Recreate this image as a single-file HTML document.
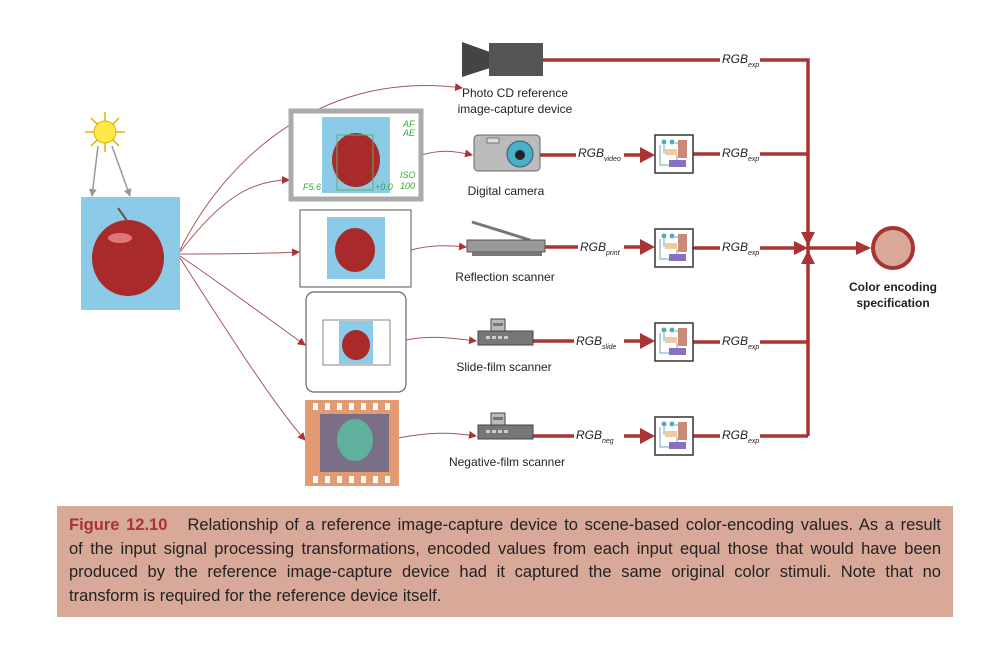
<!DOCTYPE html>
<html><head><style>
body{margin:0;background:#fff;width:1000px;height:672px;overflow:hidden;font-family:"Liberation Sans",sans-serif}
svg text{font-family:"Liberation Sans",sans-serif}
.cap{position:absolute;left:57px;top:506px;width:872px;height:90px;padding:8px 12px 13px 12px;background:#d8a898;font-size:16.5px;line-height:23.5px;color:#222}
.cap div{text-align:justify;text-align-last:justify;white-space:nowrap}
.cap div.l{text-align-last:left}
</style></head><body>
<svg width="1000" height="672" style="position:absolute;left:0;top:0">
<defs>
<marker id="a" markerWidth="8" markerHeight="8" refX="7" refY="4" orient="auto" markerUnits="userSpaceOnUse"><path d="M0,0 L8,4 L0,8 z" fill="#a33"/></marker>
<marker id="g" markerWidth="8" markerHeight="8" refX="7" refY="4" orient="auto" markerUnits="userSpaceOnUse"><path d="M0,0 L8,4 L0,8 z" fill="#999"/></marker>
<g id="proc">
<rect x="0" y="0" width="38" height="38" fill="#fff" stroke="#333" stroke-width="1.5"/>
<rect x="23" y="5" width="9" height="18" fill="#c98a7a"/>
<rect x="10" y="14" width="12" height="6" fill="#f0c9a0"/>
<rect x="14" y="25" width="17" height="7" fill="#8a70c0"/>
<circle cx="9" cy="7" r="2.5" fill="#5ab"/><circle cx="17" cy="7" r="2.5" fill="#5ab"/>
<path d="M5,10 V30 H14 M9,10 V18 M20,8 H23 M22,20 V25" stroke="#6ab" fill="none"/>
</g>
<g id="scan">
<rect x="13" y="0" width="14" height="12" fill="#bbb" stroke="#444"/>
<rect x="15" y="4" width="10" height="3" fill="#777"/>
<rect x="0" y="12" width="55" height="14" fill="#777" stroke="#444"/>
<rect x="8" y="17" width="4" height="3" fill="#ccc"/><rect x="14" y="17" width="4" height="3" fill="#ccc"/><rect x="20" y="17" width="4" height="3" fill="#ccc"/><rect x="26" y="17" width="4" height="3" fill="#ccc"/>
</g>
</defs>
<!-- sun -->
<g stroke="#e0b000" stroke-width="1.5">
<line x1="85" y1="132" x2="125" y2="132"/><line x1="105" y1="112" x2="105" y2="152"/>
<line x1="91" y1="118" x2="119" y2="146"/><line x1="119" y1="118" x2="91" y2="146"/>
</g>
<circle cx="105" cy="132" r="11" fill="#ffe84a" stroke="#e0b000"/>
<path d="M98,146 L92,196" stroke="#999" stroke-width="1.5" marker-end="url(#g)" fill="none"/>
<path d="M112,146 L130,196" stroke="#999" stroke-width="1.5" marker-end="url(#g)" fill="none"/>
<!-- apple image -->
<rect x="81" y="197" width="99" height="113" fill="#8ccbe8"/>
<ellipse cx="128" cy="258" rx="36" ry="38" fill="#a82a2a"/>
<ellipse cx="120" cy="238" rx="12" ry="5" fill="#d77"/>
<line x1="128" y1="222" x2="118" y2="208" stroke="#654" stroke-width="2"/>
<!-- fan connectors -->
<g stroke="#a55" stroke-width="1" fill="none" marker-end="url(#a)">
<path d="M180,250 C230,150 330,70 462,88"/>
<path d="M180,252 C220,200 250,180 289,180"/>
<path d="M180,254 C220,254 260,254 299,252"/>
<path d="M180,256 C230,290 270,320 305,345"/>
<path d="M180,258 C220,320 270,400 305,440"/>
<path d="M421,155 C440,150 450,150 472,155"/>
<path d="M411,250 C430,245 445,245 466,247"/>
<path d="M406,340 C430,335 450,338 476,341"/>
<path d="M398,438 C430,432 450,432 476,436"/>
</g>
<!-- LCD -->
<rect x="291" y="111" width="130" height="88" fill="#fff" stroke="#aaa" stroke-width="5"/>
<rect x="322" y="117" width="68" height="76" fill="#8ccbe8"/>
<ellipse cx="356" cy="160" rx="24" ry="27" fill="#a82a2a"/>
<rect x="337" y="135" width="36" height="55" fill="none" stroke="#6a6" stroke-width="1"/>
<g fill="#3a3" font-size="9" font-style="italic"><text x="403" y="127">AF</text><text x="403" y="136">AE</text><text x="303" y="190">F5.6</text><text x="375" y="190">+0.0</text><text x="400" y="178">ISO</text><text x="400" y="189">100</text></g>
<!-- print -->
<rect x="300" y="210" width="111" height="77" fill="#fff" stroke="#555" stroke-width="1"/>
<rect x="327" y="217" width="58" height="62" fill="#8ccbe8"/>
<ellipse cx="355" cy="250" rx="20" ry="22" fill="#a82a2a"/>
<!-- slide -->
<rect x="306" y="292" width="100" height="100" rx="8" fill="#fff" stroke="#666" stroke-width="1.2"/>
<rect x="323" y="320" width="67" height="45" fill="#fff" stroke="#666" stroke-width="0.8"/>
<rect x="339" y="321" width="34" height="43" fill="#8ccbe8"/>
<ellipse cx="356" cy="345" rx="14" ry="15" fill="#a82a2a"/>
<!-- film -->
<rect x="305" y="400" width="94" height="86" fill="#e49a70"/>
<rect x="320" y="414" width="69" height="58" fill="#7a6f86"/>
<ellipse cx="355" cy="440" rx="18" ry="21" fill="#5fb09c"/>
<g fill="#fff"><rect x="313" y="403" width="5" height="7"/><rect x="325" y="403" width="5" height="7"/><rect x="337" y="403" width="5" height="7"/><rect x="349" y="403" width="5" height="7"/><rect x="361" y="403" width="5" height="7"/><rect x="373" y="403" width="5" height="7"/><rect x="385" y="403" width="5" height="7"/>
<rect x="313" y="476" width="5" height="7"/><rect x="325" y="476" width="5" height="7"/><rect x="337" y="476" width="5" height="7"/><rect x="349" y="476" width="5" height="7"/><rect x="361" y="476" width="5" height="7"/><rect x="373" y="476" width="5" height="7"/><rect x="385" y="476" width="5" height="7"/></g>
<!-- red lines -->
<g stroke="#a33" stroke-width="3.5" fill="none">
<path d="M543,60 H720 M760,60 H808 V436"/>
<path d="M540,155 H576 M624,155 H648 M693,154 H720 M760,154 H808"/>
<path d="M545,247 H578 M624,247 H648 M693,248 H720 M760,248 H800"/>
<path d="M533,341 H574 M624,341 H648 M693,342 H720 M760,342 H808"/>
<path d="M533,436 H574 M624,436 H648 M693,436 H720 M760,436 H808"/>
<path d="M808,248 H868"/>
</g>
<g fill="#a33">
<path d="M640,147 L655,155 L640,163 z"/><path d="M640,239 L655,247 L640,255 z"/><path d="M640,333 L655,341 L640,349 z"/><path d="M640,428 L655,436 L640,444 z"/>
<path d="M794,241 L808,248 L794,255 z"/><path d="M801,232 L808,246 L815,232 z"/><path d="M801,264 L808,250 L815,264 z"/><path d="M856,241 L871,248 L856,255 z"/>
</g>
<circle cx="893" cy="248" r="20" fill="#d8a898" stroke="#a33" stroke-width="4"/>
<use href="#proc" x="655" y="135"/><use href="#proc" x="655" y="229"/><use href="#proc" x="655" y="323"/><use href="#proc" x="655" y="417"/>
<!-- video camera -->
<path d="M462,42 L490,52 L490,68 L462,77 z" fill="#444"/>
<rect x="489" y="43" width="54" height="33" fill="#555"/>
<!-- digital camera -->
<rect x="474" y="135" width="66" height="36" rx="4" fill="#bbb" stroke="#666"/>
<rect x="487" y="138" width="12" height="5" fill="#ddd" stroke="#777"/>
<circle cx="520" cy="154" r="13" fill="#4ab0c8" stroke="#357"/><circle cx="520" cy="155" r="5" fill="#222"/>
<!-- scanner -->
<line x1="472" y1="222" x2="530" y2="240" stroke="#777" stroke-width="3"/>
<rect x="467" y="240" width="78" height="12" fill="#999" stroke="#555"/>
<rect x="472" y="252" width="70" height="4" fill="#777"/>
<use href="#scan" x="478" y="319"/><use href="#scan" x="478" y="413"/>
<!-- labels -->
<g font-size="12" fill="#222" text-anchor="middle">
<text x="515" y="97">Photo CD reference</text><text x="515" y="113">image-capture device</text>
<text x="506" y="195">Digital camera</text>
<text x="505" y="281">Reflection scanner</text>
<text x="504" y="371">Slide-film scanner</text>
<text x="507" y="466">Negative-film scanner</text>
</g>
<g font-size="12" font-weight="bold" fill="#222" text-anchor="middle"><text x="893" y="291">Color encoding</text><text x="893" y="307">specification</text></g>
<g font-size="12" font-style="italic" fill="#222">
<text x="722" y="63">RGB<tspan font-size="7" dy="4">exp</tspan></text>
<text x="722" y="157">RGB<tspan font-size="7" dy="4">exp</tspan></text>
<text x="722" y="251">RGB<tspan font-size="7" dy="4">exp</tspan></text>
<text x="722" y="345">RGB<tspan font-size="7" dy="4">exp</tspan></text>
<text x="722" y="439">RGB<tspan font-size="7" dy="4">exp</tspan></text>
<text x="578" y="157">RGB<tspan font-size="7" dy="4">video</tspan></text>
<text x="580" y="251">RGB<tspan font-size="7" dy="4">print</tspan></text>
<text x="576" y="345">RGB<tspan font-size="7" dy="4">slide</tspan></text>
<text x="576" y="439">RGB<tspan font-size="7" dy="4">neg</tspan></text>
</g>
</svg>
<div class="cap">
<div><b style="color:#a33">Figure 12.10</b>&nbsp;&nbsp;&nbsp;Relationship of a reference image-capture device to scene-based color-encoding values. As a result</div>
<div>of the input signal processing transformations, encoded values from each input equal those that would have been</div>
<div>produced by the reference image-capture device had it captured the same original color stimuli. Note that no</div>
<div class="l">transform is required for the reference device itself.</div>
</div>
</body></html>
